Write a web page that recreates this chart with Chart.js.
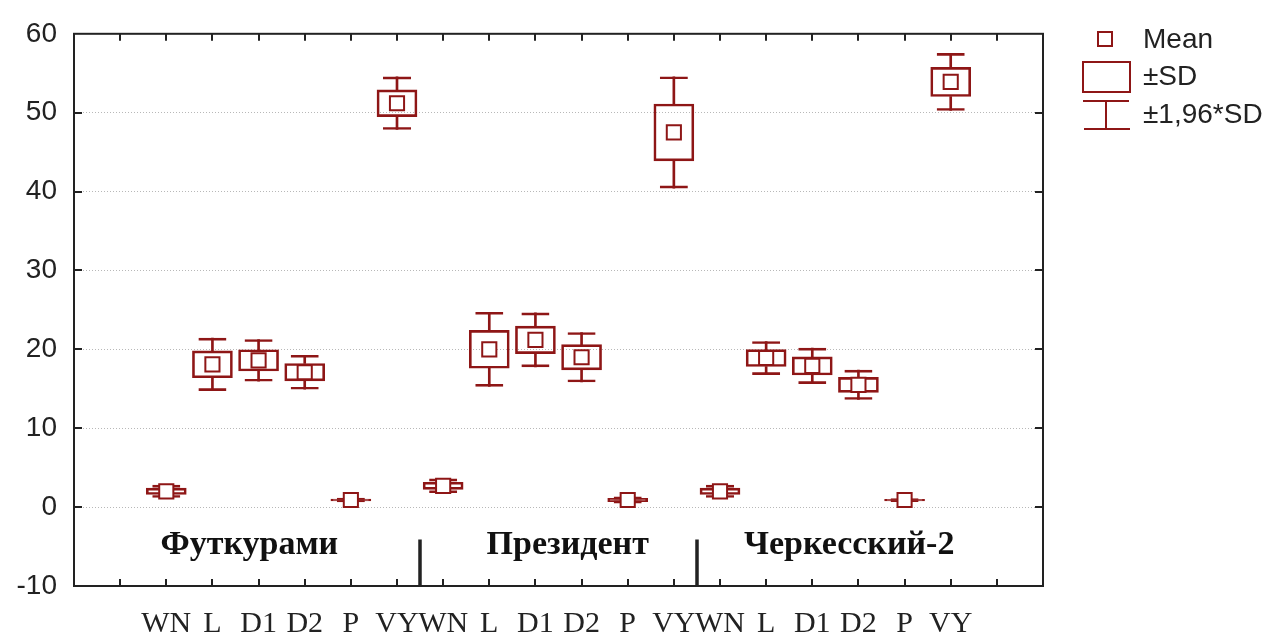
<!DOCTYPE html>
<html>
<head>
<meta charset="utf-8">
<script src="https://cdn.jsdelivr.net/npm/chart.js@4.4.1/dist/chart.umd.min.js"></script>
<style>
  html, body { margin: 0; background: #fff; }
  canvas { display: block; }
</style>
</head>
<body>
<canvas id="chart" width="1271" height="641"></canvas>
<script>
// datos
const groups = ['Футкурами', 'Президент', 'Черкесский-2'];
const traits = ['WN', 'L', 'D1', 'D2', 'P', 'VY'];
const meanValues = [
  2.0, 18.1, 18.6, 17.1, 0.9, 51.2,
  2.7, 20.0, 21.2, 19.0, 0.9, 47.5,
  2.0, 18.9, 17.9, 15.5, 0.9, 53.9
];
const sdValues = [
  0.4, 1.7, 1.35, 1.1, 0.12, 1.7,
  0.45, 2.4, 1.75, 1.6, 0.2, 3.6,
  0.4, 1.07, 1.15, 0.95, 0.1, 1.85
];
const legendLabels = ['Mean', '±SD', '±1,96*SD'];
const yMin = -10, yMax = 60, yStep = 10;

const RED = '#8e1616';
const INK = '#222';
const SANS = '"Liberation Sans", Arial, sans-serif';
const SERIF = '"Liberation Serif", "Times New Roman", serif';

// posiciones: cada grupo ocupa 6 puestos, empezando en x=2
const xs = [];
const tickNames = {};
groups.forEach((g, gi) => {
  traits.forEach((t, ti) => {
    const x = 2 + gi * 6 + ti;
    xs.push(x);
    tickNames[x] = t;
  });
});
const separators = groups.slice(1).map((g, gi) => 2 + (gi + 1) * 6 - 0.5);
const groupLabelAt = [3.8, 10.7, 16.8];

const meanPts = xs.map((x, i) => ({ x, y: meanValues[i] }));
const sdBox = xs.map((x, i) => ({ x, y: [meanValues[i] - sdValues[i], meanValues[i] + sdValues[i]] }));
const ciBox = xs.map((x, i) => ({ x, y: [meanValues[i] - 1.96 * sdValues[i], meanValues[i] + 1.96 * sdValues[i]] }));
const stemUp = xs.map((x, i) => ({ x, y: [meanValues[i] + sdValues[i], meanValues[i] + 1.96 * sdValues[i]] }));
const stemDown = xs.map((x, i) => ({ x, y: [meanValues[i] - 1.96 * sdValues[i], meanValues[i] - sdValues[i]] }));

const clear = 'rgba(0,0,0,0)';

// marco, marcas hacia dentro, separadores, nombres de grupo y leyenda
const decorPlugin = {
  id: 'decor',
  afterDraw(chart) {
    const { ctx, chartArea: { left, right, top, bottom } } = chart;
    const xS = chart.scales.x, yS = chart.scales.y;
    ctx.save();
    ctx.strokeStyle = INK;
    ctx.lineWidth = 2;
    ctx.strokeRect(left, top, right - left, bottom - top);

    ctx.beginPath();
    for (let v = xS.min + 1; v < xS.max; v++) {
      const px = Math.round(xS.getPixelForValue(v));
      ctx.moveTo(px, top); ctx.lineTo(px, top + 7);
      ctx.moveTo(px, bottom); ctx.lineTo(px, bottom - 7);
    }
    for (let v = yMin + yStep; v < yMax; v += yStep) {
      const py = Math.round(yS.getPixelForValue(v));
      ctx.moveTo(left, py); ctx.lineTo(left + 8, py);
      ctx.moveTo(right, py); ctx.lineTo(right - 8, py);
    }
    ctx.stroke();

    ctx.lineWidth = 3.5;
    ctx.beginPath();
    separators.forEach(s => {
      const px = Math.round(xS.getPixelForValue(s));
      ctx.moveTo(px, bottom);
      ctx.lineTo(px, yS.getPixelForValue(-4.1));
    });
    ctx.stroke();

    ctx.fillStyle = '#111';
    ctx.font = 'bold 34px ' + SERIF;
    ctx.textAlign = 'center';
    ctx.textBaseline = 'alphabetic';
    groups.forEach((g, gi) => {
      ctx.fillText(g, xS.getPixelForValue(groupLabelAt[gi]), yS.getPixelForValue(-5.95));
    });

    // leyenda
    const lx = right + 40;
    ctx.strokeStyle = RED;
    ctx.lineWidth = 2;
    ctx.strokeRect(lx + 15, 32, 14, 14);
    ctx.strokeRect(lx, 62, 47, 30);
    ctx.beginPath();
    ctx.moveTo(lx, 101); ctx.lineTo(lx + 46, 101);
    ctx.moveTo(lx + 23, 101); ctx.lineTo(lx + 23, 129);
    ctx.moveTo(lx + 1, 129); ctx.lineTo(lx + 47, 129);
    ctx.stroke();

    ctx.fillStyle = INK;
    ctx.font = '28px ' + SANS;
    ctx.textAlign = 'left';
    ctx.textBaseline = 'middle';
    [40, 77, 115].forEach((y, i) => ctx.fillText(legendLabels[i], lx + 60, y));
    ctx.restore();
  }
};

new Chart(document.getElementById('chart'), {
  type: 'scatter',
  data: {
    datasets: [
      {
        type: 'scatter',
        label: legendLabels[0],
        data: meanPts,
        pointStyle: 'rect',
        pointRadius: 10,
        pointHoverRadius: 10,
        borderWidth: 2,
        borderColor: RED,
        backgroundColor: '#fff',
        order: 0
      },
      {
        type: 'bar',
        label: legendLabels[1],
        data: sdBox,
        barThickness: 40,
        grouped: false,
        borderWidth: 2,
        borderSkipped: false,
        borderColor: RED,
        backgroundColor: clear,
        order: 1
      },
      {
        type: 'bar',
        label: legendLabels[2],
        data: ciBox,
        barThickness: 28,
        grouped: false,
        borderWidth: { top: 2, bottom: 2, left: 0, right: 0 },
        borderSkipped: false,
        borderColor: RED,
        backgroundColor: clear,
        order: 2
      },
      {
        type: 'bar',
        data: stemUp,
        barThickness: 2,
        grouped: false,
        borderWidth: 0,
        backgroundColor: RED,
        order: 3
      },
      {
        type: 'bar',
        data: stemDown,
        barThickness: 2,
        grouped: false,
        borderWidth: 0,
        backgroundColor: RED,
        order: 3
      }
    ]
  },
  plugins: [decorPlugin],
  options: {
    responsive: false,
    animation: false,
    layout: { padding: { left: 0, top: 28, right: 228, bottom: 0 } },
    plugins: {
      legend: { display: false },
      tooltip: { enabled: false }
    },
    scales: {
      x: {
        type: 'linear',
        min: 0,
        max: 21,
        offset: false,
        grid: { display: false, drawTicks: false, offset: false },
        border: { display: false },
        ticks: {
          stepSize: 1,
          maxTicksLimit: 40,
          autoSkip: false,
          maxRotation: 0,
          padding: 20,
          color: INK,
          font: { family: SERIF, size: 30 },
          callback: v => tickNames[v] || ''
        },
        afterFit: s => { s.height = 55; }
      },
      y: {
        min: yMin,
        max: yMax,
        grid: { color: '#b8b8b8', lineWidth: 1, drawTicks: false },
        border: { display: false, dash: [1, 2] },
        ticks: {
          stepSize: yStep,
          padding: 17,
          color: INK,
          font: { family: SANS, size: 28 }
        },
        afterFit: s => { s.width = 74; }
      }
    }
  }
});
</script>
</body>
</html>
